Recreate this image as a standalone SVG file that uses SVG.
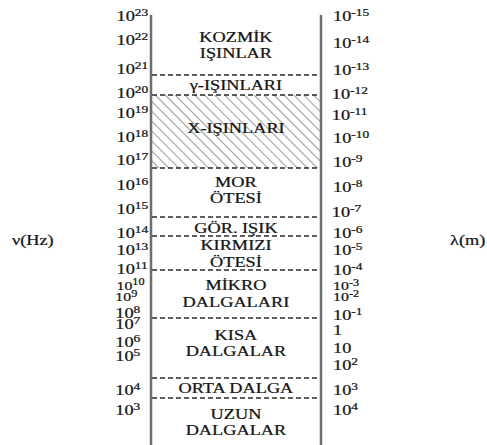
<svg xmlns="http://www.w3.org/2000/svg" width="487" height="445" viewBox="0 0 487 445">
<defs>
<pattern id="hatch" patternUnits="userSpaceOnUse" width="7" height="7" patternTransform="rotate(-45)">
<rect width="7" height="7" fill="#fff"/>
<line x1="0" y1="0" x2="0" y2="7" stroke="#a0a0a0" stroke-width="2.2"/>
</pattern>
<style>
.ax{stroke:#6e6e6e;stroke-width:2.5;fill:none}
.dash{stroke:#2a2a2a;stroke-width:1.6;stroke-dasharray:5 3;fill:none}
text{font-family:"Liberation Serif","Times New Roman",serif;fill:#151515;font-size:15px;stroke:#151515;stroke-width:0.25}
.c{text-anchor:middle}
.sup{font-size:11px}
.s{font-size:13px}
.s .sup{font-size:10px}
</style>
</defs>
<rect width="487" height="445" fill="#fff"/>
<g id="bands">
<rect id="xray-fill" x="152" y="95" width="168" height="73" fill="url(#hatch)"/>
<line class="dash" x1="152" y1="75" x2="320" y2="75"/>
<line class="dash" x1="152" y1="95" x2="320" y2="95"/>
<line class="dash" x1="152" y1="168" x2="320" y2="168"/>
<line class="dash" x1="152" y1="217" x2="320" y2="217"/>
<line class="dash" x1="152" y1="236" x2="320" y2="236"/>
<line class="dash" x1="152" y1="270" x2="320" y2="270"/>
<line class="dash" x1="152" y1="318" x2="320" y2="318"/>
<line class="dash" x1="152" y1="378" x2="320" y2="378"/>
<line class="dash" x1="152" y1="398" x2="320" y2="398"/>
</g>
<g id="axes">
<line class="ax" x1="151" y1="15" x2="151" y2="445"/>
<line class="ax" x1="321" y1="15" x2="321" y2="445"/>
</g>
<g transform="scale(1.22 1)">
<g id="band-labels">
<text class="c" x="193.4" y="42">KOZMİK</text>
<text class="c" x="193.4" y="58">IŞINLAR</text>
<text class="c" x="193.4" y="90">γ-IŞINLARI</text>
<text class="c" x="193.4" y="133">X-IŞINLARI</text>
<text class="c" x="193.4" y="187">MOR</text>
<text class="c" x="193.4" y="203">ÖTESİ</text>
<text class="c" x="193.4" y="233">GÖR. IŞIK</text>
<text class="c" x="193.4" y="250">KIRMIZI</text>
<text class="c" x="193.4" y="267">ÖTESİ</text>
<text class="c" x="193.4" y="290">MİKRO</text>
<text class="c" x="193.4" y="307">DALGALARI</text>
<text class="c" x="193.4" y="340">KISA</text>
<text class="c" x="193.4" y="356">DALGALAR</text>
<text class="c" x="193.4" y="393">ORTA DALGA</text>
<text class="c" x="193.4" y="419">UZUN</text>
<text class="c" x="193.4" y="435">DALGALAR</text>
</g>
<g id="freq-labels">
<text x="95.5" y="21">10<tspan class="sup" dy="-5">23</tspan></text>
<text x="95.5" y="45">10<tspan class="sup" dy="-5">22</tspan></text>
<text x="95.5" y="74">10<tspan class="sup" dy="-5">21</tspan></text>
<text x="95.5" y="98">10<tspan class="sup" dy="-5">20</tspan></text>
<text x="95.5" y="118">10<tspan class="sup" dy="-5">19</tspan></text>
<text x="95.5" y="142">10<tspan class="sup" dy="-5">18</tspan></text>
<text x="95.5" y="165">10<tspan class="sup" dy="-5">17</tspan></text>
<text x="95.5" y="190">10<tspan class="sup" dy="-5">16</tspan></text>
<text x="95.5" y="214">10<tspan class="sup" dy="-5">15</tspan></text>
<text x="95.5" y="238">10<tspan class="sup" dy="-5">14</tspan></text>
<text x="95.5" y="255">10<tspan class="sup" dy="-5">13</tspan></text>
<text x="95.5" y="274">10<tspan class="sup" dy="-5">11</tspan></text>
<text class="s" x="95.5" y="290">10<tspan class="sup" dy="-5">10</tspan></text>
<text class="s" x="94.5" y="301">10<tspan class="sup" dy="-4">9</tspan></text>
<text x="94.5" y="318">10<tspan class="sup" dy="-5">8</tspan></text>
<text x="94.5" y="329">10<tspan class="sup" dy="-5">7</tspan></text>
<text x="94.5" y="347">10<tspan class="sup" dy="-5">6</tspan></text>
<text x="94.5" y="361">10<tspan class="sup" dy="-5">5</tspan></text>
<text x="94.5" y="395">10<tspan class="sup" dy="-5">4</tspan></text>
<text x="94.5" y="415">10<tspan class="sup" dy="-5">3</tspan></text>
</g>
<g id="wavelength-labels">
<text x="273" y="21">10<tspan class="sup" dy="-5">-15</tspan></text>
<text x="273" y="48">10<tspan class="sup" dy="-5">-14</tspan></text>
<text x="273" y="75">10<tspan class="sup" dy="-5">-13</tspan></text>
<text x="272" y="99">10<tspan class="sup" dy="-5">-12</tspan></text>
<text x="272" y="120">10<tspan class="sup" dy="-5">-11</tspan></text>
<text x="273" y="143">10<tspan class="sup" dy="-5">-10</tspan></text>
<text x="273" y="167">10<tspan class="sup" dy="-5">-9</tspan></text>
<text x="273" y="192">10<tspan class="sup" dy="-5">-8</tspan></text>
<text x="272" y="217">10<tspan class="sup" dy="-5">-7</tspan></text>
<text x="273" y="238">10<tspan class="sup" dy="-5">-6</tspan></text>
<text x="273" y="255">10<tspan class="sup" dy="-5">-5</tspan></text>
<text x="273" y="275">10<tspan class="sup" dy="-5">-4</tspan></text>
<text class="s" x="273" y="290">10<tspan class="sup" dy="-4">-3</tspan></text>
<text class="s" x="273" y="301">10<tspan class="sup" dy="-4">-2</tspan></text>
<text x="273" y="320">10<tspan class="sup" dy="-5">-1</tspan></text>
<text x="273" y="335">1</text>
<text x="273" y="353">10</text>
<text x="273" y="370">10<tspan class="sup" dy="-5">2</tspan></text>
<text x="273" y="395">10<tspan class="sup" dy="-5">3</tspan></text>
<text x="273" y="415">10<tspan class="sup" dy="-5">4</tspan></text>
</g>
<g id="axis-titles">
<text x="9.8" y="245">ν(Hz)</text>
<text x="368.9" y="245">λ(m)</text>
</g>
</g>
</svg>
